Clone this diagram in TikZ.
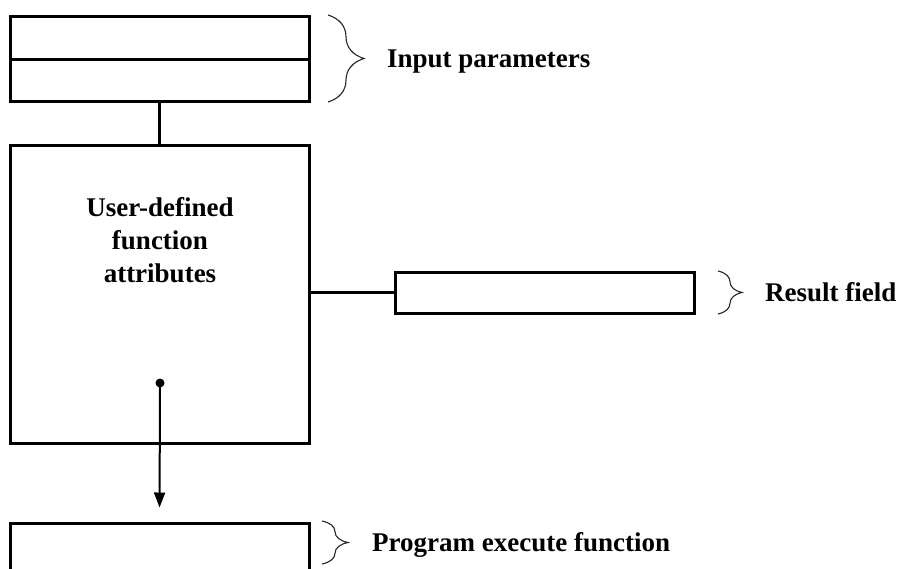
\documentclass[tikz,border=0pt]{standalone}
\usepackage{fontspec}
\setmainfont{Liberation Serif}
\usetikzlibrary{arrows.meta,decorations.pathreplacing}

\tikzset{
  box/.style={draw, line width=3pt, inner sep=0pt, minimum width=299pt},
  lbl/.style={font=\bfseries\fontsize{27}{33}\selectfont, inner sep=0pt},
  curly/.style={decorate, line width=1.1pt, draw=black!85},
  link/.style={line width=3pt},
  flow/.style={line width=2pt, -{Triangle[length=15pt,width=11pt]}}
}

\begin{document}
\begin{tikzpicture}[x=1pt, y=-1pt]
  \clip (0,0) rectangle (902,568);
  \fill[white] (0,0) rectangle (902,568);

  % input parameter record: two stacked fields
  \node[box, minimum height=42.5pt] (inA) at (159.5,37.75) {};
  \node[box, minimum height=42pt]   (inB) at (159.5,80) {};

  % attribute block of the user-defined function
  \node[box, minimum height=298pt] (attr) at (159.5,294) {};
  \node[lbl, align=center, anchor=base] (attrtxt) at (160,282)
    {User-defined\\function\\attributes};

  % result field
  \node[box, minimum height=41.5pt] (res) at (544.5,292.75) {};

  % program execute function (runs off the lower edge)
  \node[box, minimum height=60pt] (prog) at (159.5,553) {};

  % connectors
  \draw[link] (inB.south) -- (attr.north);
  \draw[link] (attr.east |- res.west) -- (res.west);

  \coordinate (src) at (160,383);
  \fill (src) circle (4.5pt);
  \draw[flow, shorten >=14pt] (src) -- (prog.north);

  % braces and their captions
  \coordinate (b1s) at (328,15);   \coordinate (b1e) at (328,102);
  \coordinate (b2s) at (718,271);  \coordinate (b2e) at (718,314);
  \coordinate (b3s) at (322,521);  \coordinate (b3e) at (322,564);
  \draw[curly, decoration={brace, amplitude=36pt}] (b1s) -- (b1e);
  \draw[curly, decoration={brace, amplitude=24pt}] (b2s) -- (b2e);
  \draw[curly, decoration={brace, amplitude=26pt}] (b3s) -- (b3e);

  \node[lbl, anchor=base west] (inlbl)   at (387,67)  {Input parameters};
  \node[lbl, anchor=base west] (reslbl)  at (765,301) {Result field};
  \node[lbl, anchor=base west] (proglbl) at (372,551) {Program execute function};
\end{tikzpicture}
\end{document}
